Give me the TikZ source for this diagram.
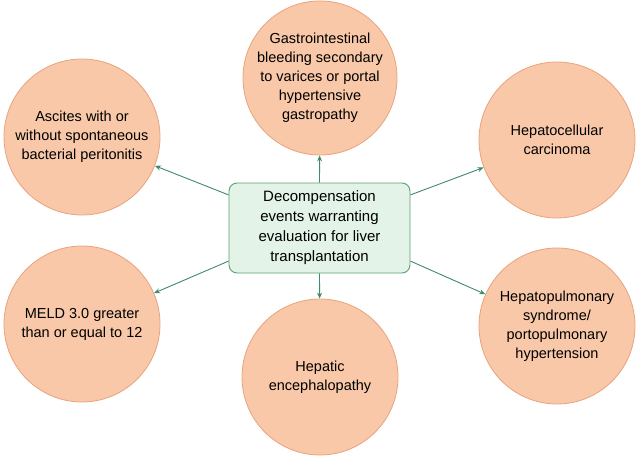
\documentclass[tikz,border=0pt]{standalone}
\usepackage{fontspec}
\setmainfont{Liberation Sans}
\usetikzlibrary{arrows.meta}
\definecolor{cfill}{HTML}{F8C8A8}
\definecolor{cline}{HTML}{E9A37E}
\definecolor{bfill}{HTML}{E3F3E7}
\definecolor{bline}{HTML}{5E9E72}
\definecolor{arr}{HTML}{3F8A68}
\begin{document}
\begin{tikzpicture}[x=1pt,y=-1pt,
  circ/.style={circle,draw=cline,fill=cfill,line width=0.8pt,minimum size=156pt,inner sep=0pt,align=center,font=\fontsize{14.5}{19}\selectfont},
  cbox/.style={rounded corners=8pt,draw=bline,fill=bfill,line width=0.9pt,minimum width=181pt,minimum height=90pt,align=center,font=\fontsize{15}{20}\selectfont},
  conn/.style={draw=arr,line width=0.9pt,-{Stealth[length=6pt,width=5pt]}}]
\useasboundingbox (0,0) rectangle (639,457);
\node[circ] (tl) at (82,137) {Ascites with or\\without spontaneous\\bacterial peritonitis};
\node[circ,minimum size=148pt] (tc) at (320,78) {Gastrointestinal\\bleeding secondary\\to varices or portal\\hypertensive\\gastropathy};
\node[circ] (tr) at (557,140) {Hepatocellular\\carcinoma};
\node[circ] (bl) at (82,324) {MELD 3.0 greater\\than or equal to 12};
\node[circ] (bc) at (320,377) {Hepatic\\encephalopathy};
\node[circ] (br) at (557,326) {Hepatopulmonary\\syndrome/\\portopulmonary\\hypertension};
\node[cbox] (c) at (319.5,228) {Decompensation\\events warranting\\evaluation for liver\\transplantation};
\draw[conn] (c.160) -- (tl);
\draw[conn] (c.north) -- (tc);
\draw[conn] (c.20) -- (tr);
\draw[conn] (c.200) -- (bl);
\draw[conn] (c.south) -- (bc);
\draw[conn] (c.340) -- (br);
\end{tikzpicture}
\end{document}
